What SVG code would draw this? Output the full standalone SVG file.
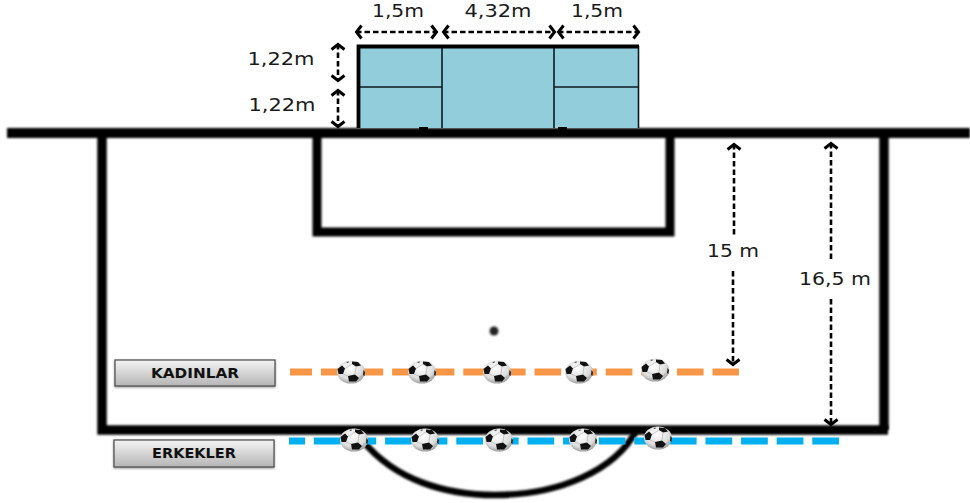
<svg xmlns="http://www.w3.org/2000/svg" xmlns:xlink="http://www.w3.org/1999/xlink" width="970" height="503" viewBox="0 0 970 503">
<style>
.lbl{font-family:"DejaVu Sans",sans-serif;font-size:18.5px;fill:#1a1a1a;text-anchor:middle}
.btxt{font-family:"DejaVu Sans",sans-serif;font-weight:bold;font-size:14.500px;fill:#111;text-anchor:middle}
.box{fill:url(#bg);stroke:#4a4a4a;stroke-width:1.2;filter:url(#sh)}
.field{fill:none;stroke:#000;filter:url(#bl)}
.dim{fill:none;stroke:#000;stroke-width:2.6;stroke-dasharray:5.5 3}
.ma{marker-end:url(#ah)}
.ms{marker-start:url(#ah)}
.net{fill:none;stroke:#0d1b20;stroke-width:1.6}
</style>
<defs>
<linearGradient id="bg" x1="0" y1="0" x2="0" y2="1"><stop offset="0" stop-color="#f4f4f4"/><stop offset="1" stop-color="#b5b5b5"/></linearGradient>
<radialGradient id="bw" cx=".45" cy=".35" r=".7"><stop offset="0" stop-color="#fff"/><stop offset=".65" stop-color="#dcdcdc"/><stop offset="1" stop-color="#8f8f8f"/></radialGradient>
<filter id="bl" filterUnits="userSpaceOnUse" x="0" y="0" width="970" height="503"><feGaussianBlur stdDeviation="1"/></filter>
<filter id="bl2" filterUnits="userSpaceOnUse" x="0" y="0" width="970" height="503"><feGaussianBlur stdDeviation="1.3"/></filter>
<filter id="sh" x="-5%" y="-20%" width="110%" height="150%"><feDropShadow dx="0" dy="1" stdDeviation="1" flood-color="#555" flood-opacity=".6"/></filter>
<marker id="ah" viewBox="0 0 16 16" refX="13.500" refY="8" markerWidth="16" markerHeight="16" markerUnits="userSpaceOnUse" orient="auto-start-reverse"><path d="M8 1.500 L13 8 L8 14.500" fill="none" stroke="#000" stroke-width="3"/></marker>
<g id="ball">
<ellipse cx="0" cy="0" rx="14" ry="11.500" fill="url(#bw)"/>
<path d="M-3 4 L4 2.500 L8 6 L5 9.500 L-2 9.500 Z" fill="#111"/>
<path d="M-13.500 -3 L-9 -6.500 L-6 -3.500 L-8 2 L-12.500 2 Z" fill="#111"/>
<path d="M1 -10.500 L7 -10 L10 -6.500 L5 -5.500 L1 -8 Z" fill="#111"/>
<path d="M12.500 -2 L14 0 L13.500 4 L12 3 Z" fill="#222"/>
<path d="M-5 -10 L-2 -10.500 L-3 -9 Z" fill="#333"/>
<path d="M-3 4 L-8 2 M4 2.500 L5 -5.500 M-6 -3.500 L1 -8 M8 6 L12 3" stroke="#aaa" stroke-width=".6" fill="none"/>
</g>
</defs>
<rect width="970" height="503" fill="#fff"/>

<g id="penalty-area">
<path class="field" stroke-width="9.500" d="M102 133 V430 H888"/>
<path class="field" stroke-width="9.500" d="M884 133 V430"/>
<path class="field" stroke-width="10" d="M7 133 H970"/>
</g>
<g id="goal-area"><path class="field" stroke-width="9" d="M317 133 V232 H670 V133"/></g>
<g id="penalty-arc"><path class="field" stroke-width="6.500" d="M363 441 C395 480 445 495 495 495 C560 495 615 470 636 431"/></g>
<g id="penalty-spot"><circle cx="494" cy="331" r="4.500" fill="#222" filter="url(#bl2)"/></g>

<g id="goal">
<rect x="358" y="46" width="281" height="82" fill="#92cddc"/>
<path class="net" d="M442 46 V128 M554 46 V128 M358 87 H442 M554 87 H639 M638.500 46 V128"/>
<path fill="none" stroke="#000" stroke-width="3.800" d="M358.500 128 V46.500 H639"/>
<rect x="419" y="127" width="9" height="7" fill="#000"/><rect x="558" y="127" width="9" height="7" fill="#000"/>
</g>

<g id="connectors">
<path class="dim ma ms" d="M356 32 H437"/>
<path class="dim ma ms" d="M443 32 H555"/>
<path class="dim ma ms" d="M558 32 H639"/>
<path class="dim ma ms" d="M338 44 V81"/>
<path class="dim ma ms" d="M338 90 V127"/>
<path class="dim ms" d="M734 144 V237"/>
<path class="dim ma" d="M733 271 V365"/>
<path class="dim ms" d="M831 143 V262"/>
<path class="dim ma" d="M831 299 V425"/>
</g>

<g id="line-women"><path fill="none" stroke="#f79646" stroke-width="7" stroke-dasharray="26.700 8.900" stroke-dashoffset="4.700" d="M290 372 H739"/></g>
<g id="line-men"><path fill="none" stroke="#00b0f0" stroke-width="7" stroke-dasharray="26.700 8.900" stroke-dashoffset="10.700" d="M289 441 H839"/></g>

<g id="balls">
<use xlink:href="#ball" href="#ball" x="351" y="372"/>
<use xlink:href="#ball" href="#ball" x="422" y="372"/>
<use xlink:href="#ball" href="#ball" x="497" y="372"/>
<use xlink:href="#ball" href="#ball" x="579" y="372"/>
<use xlink:href="#ball" href="#ball" x="655" y="370"/>
<use xlink:href="#ball" href="#ball" x="354" y="440"/>
<use xlink:href="#ball" href="#ball" x="425" y="440"/>
<use xlink:href="#ball" href="#ball" x="499" y="440"/>
<use xlink:href="#ball" href="#ball" x="583" y="440"/>
<use xlink:href="#ball" href="#ball" x="658" y="438"/>
</g>

<g id="labels">
<text class="lbl" x="398" y="17" textLength="52" lengthAdjust="spacingAndGlyphs">1,5m</text>
<text class="lbl" x="498" y="17" textLength="67" lengthAdjust="spacingAndGlyphs">4,32m</text>
<text class="lbl" x="597" y="17" textLength="52" lengthAdjust="spacingAndGlyphs">1,5m</text>
<text class="lbl" x="281" y="65" textLength="67" lengthAdjust="spacingAndGlyphs">1,22m</text>
<text class="lbl" x="282" y="111" textLength="67" lengthAdjust="spacingAndGlyphs">1,22m</text>
<text class="lbl" x="733" y="257" textLength="52" lengthAdjust="spacingAndGlyphs">15 m</text>
<text class="lbl" x="835" y="285" textLength="72" lengthAdjust="spacingAndGlyphs">16,5 m</text>
</g>

<g id="kadinlar"><rect class="box" x="115" y="360" width="160" height="26"/><text class="btxt" x="195" y="378" textLength="88" lengthAdjust="spacingAndGlyphs">KADINLAR</text></g>
<g id="erkekler"><rect class="box" x="114" y="440" width="160" height="27"/><text class="btxt" x="194" y="458" textLength="84" lengthAdjust="spacingAndGlyphs">ERKEKLER</text></g>
</svg>
